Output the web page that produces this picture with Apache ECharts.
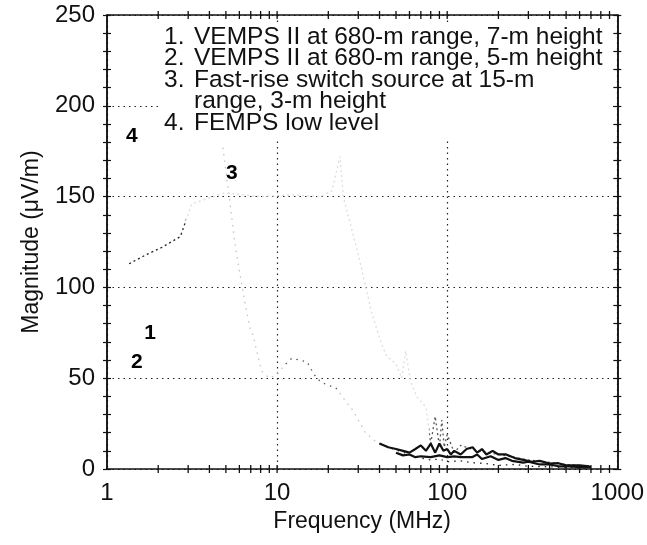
<!DOCTYPE html>
<html>
<head>
<meta charset="utf-8">
<script src="https://cdn.jsdelivr.net/npm/echarts@6/dist/echarts.min.js"></script>
<style>
  html, body { margin: 0; padding: 0; background: #fff; }
  #chart { width: 647px; height: 545px; }
</style>
</head>
<body>
<div id="chart"></div>
<script>
var FONT = 'Liberation Sans';

// axis ticks
var xLabelTicks = [1, 10, 100, 1000];
var xMinorTicks = [2, 3, 4, 5, 6, 7, 8, 9, 10, 20, 30, 40, 50, 60, 70, 80, 90,
                   100, 200, 300, 400, 500, 600, 700, 800, 900];
var yLabelTicks = [0, 50, 100, 150, 200, 250];

// 1. VEMPS II, 680 m, 7 m height
var freq1 = [40, 45, 50, 55, 60, 65, 70, 75, 80, 85, 90, 95, 100, 105, 110, 120, 130, 141, 150, 160, 170, 185, 200, 222, 250, 280, 316, 350, 400, 450, 500, 600, 685];
var mag1  = [14, 12, 11, 10, 9, 11, 13, 10, 14, 9, 14, 10, 11, 8, 10, 8, 11, 12, 9, 11, 8, 10, 8, 8, 6, 5, 4, 4.5, 3, 3.2, 2, 2, 1.5];
// 2. VEMPS II, 680 m, 5 m height
var freq2 = [50, 55, 60, 65, 70, 80, 90, 100, 110, 120, 140, 150, 160, 180, 200, 220, 240, 280, 300, 350, 400, 450, 500, 600, 700];
var mag2  = [9, 7.5, 8, 6.5, 7, 6.5, 7.5, 6.5, 7, 6.5, 6.5, 8, 5.5, 7, 5, 6, 4.5, 3.5, 4, 2.5, 2.5, 1.5, 1.5, 1, 1];
// 3. fast-rise switch source, 15 m
var freq3 = [4.8, 5.2, 5.6, 5.9, 6.4, 6.9, 7.2, 8.1, 9, 10, 11, 12.2, 13.5, 15, 16.5, 18, 20, 22, 25, 28, 33, 37, 40, 45, 52, 60, 70, 80, 90, 100, 120, 140, 170, 200, 250, 300, 400, 500, 700];
var mag3  = [177, 152, 127, 113, 94, 78, 74, 54, 50, 52, 57, 61, 60, 59, 52, 48, 46, 45, 38, 32, 20, 16, 14, 12, 10, 8, 6, 5, 5.5, 4, 4.5, 3.5, 3, 2, 2.5, 1.5, 1.2, 0.8, 0.5];
// 4. FEMPS low level
var freq4 = [1.35, 1.7, 2.1, 2.7, 3.15, 4.9, 8, 12, 18, 21, 23.4, 24.5, 30, 36, 40, 44, 50, 54, 57, 61, 66, 75, 80, 85, 90, 93, 96, 100, 110, 120, 150, 200, 300, 500, 700];
var mag4  = [113, 118, 122, 128, 146, 152, 150, 151, 150, 153, 172, 150, 118, 86, 72, 62, 58, 50, 65, 48, 40, 34, 14, 29, 12, 27, 12, 19, 9, 13, 10, 8, 5, 2.5, 1.5];

// curve numbers written on the plot
var tagFreq = [1.40, 5.42, 1.79, 1.50];
var tagMag  = [183, 163, 75, 59];
var tagText = ['4', '3', '1', '2'];

var legendNums  = ['1.', '2.', '3.', '', '4.'];
var legendLines = ['VEMPS II at 680-m range, 7-m height',
                   'VEMPS II at 680-m range, 5-m height',
                   'Fast-rise switch source at 15-m',
                   'range, 3-m height',
                   'FEMPS low level'];

function pairs(xs, ys) {
  var out = [];
  for (var i = 0; i < xs.length; i++) out.push([xs[i], ys[i]]);
  return out;
}
function onLevel(xs, y) {
  return xs.map(function (x) { return [x, y]; });
}

var black = '#111';
var dotted = [1.5, 4];

function tickAxisY(pos, inside, labels) {
  return {
    type: 'value', min: 0, max: 250, interval: 10, position: pos,
    axisLine: { show: true, onZero: false, lineStyle: { color: black, width: 1.5 } },
    axisTick: { show: true, inside: inside, length: 4, lineStyle: { color: black, width: 1.2 } },
    axisLabel: labels ? { show: true, color: black, fontFamily: FONT, fontSize: 24, margin: 12,
                          formatter: function (v) { return yLabelTicks.indexOf(v) >= 0 ? String(v) : ''; } }
                      : { show: false },
    splitLine: { show: false }
  };
}

var yMain = tickAxisY('left', false, true);
yMain.name = 'Magnitude (μV/m)';
yMain.nameLocation = 'middle';
yMain.nameGap = 64;
yMain.nameTextStyle = { color: black, fontFamily: FONT, fontSize: 23 };

// log ticks along the bottom and top frame, drawn as thin bars centred on the frame
var frameTick = { type: 'scatter', symbol: 'rect', symbolSize: [1.3, 8], z: 7, silent: true,
                  itemStyle: { color: black, opacity: 1 } };

var option = {
  backgroundColor: '#fff',
  animation: false,
  grid: { left: 107, right: 29, top: 15, bottom: 76 },
  xAxis: [
    { type: 'log', logBase: 10, min: 1, max: 1000, position: 'bottom',
      name: 'Frequency (MHz)', nameLocation: 'middle', nameGap: 40,
      nameTextStyle: { color: black, fontFamily: FONT, fontSize: 23 },
      axisLine: { show: true, onZero: false, lineStyle: { color: black, width: 1.6 } },
      axisTick: { show: false },
      axisLabel: { show: true, customValues: xLabelTicks, color: black, fontFamily: FONT,
                   fontSize: 24, margin: 12, formatter: function (v) { return String(v); } },
      splitLine: { show: true, lineStyle: { color: '#222', width: 1.2, type: dotted } } },
    { type: 'log', logBase: 10, min: 1, max: 1000, position: 'top',
      axisLine: { show: true, onZero: false, lineStyle: { color: black, width: 1.5 } },
      axisTick: { show: false }, axisLabel: { show: false }, splitLine: { show: false } }
  ],
  yAxis: [
    yMain,
    tickAxisY('left', true, false),
    tickAxisY('right', true, false),
    tickAxisY('right', false, false),
    { type: 'value', min: 0, max: 250, interval: 50, position: 'left',
      axisLine: { show: false }, axisTick: { show: false }, axisLabel: { show: false },
      splitLine: { show: true, lineStyle: { color: '#222', width: 1.2, type: dotted } } }
  ],
  visualMap: [
    { type: 'piecewise', show: false, seriesIndex: 2, dimension: 0,
      pieces: [{ lt: 11, color: '#c4c4c4' }, { gte: 11, lt: 23, color: '#555' },
               { gte: 23, lt: 38, color: '#c4c4c4' }, { gte: 38, color: '#222' }] },
    { type: 'piecewise', show: false, seriesIndex: 3, dimension: 0,
      pieces: [{ lt: 2.9, color: '#222' }, { gte: 2.9, lt: 78, color: '#dddddd' },
               { gte: 78, color: '#555' }] }
  ],
  series: [
    { name: '1', type: 'line', data: pairs(freq1, mag1), symbol: 'none', z: 5,
      lineStyle: { color: black, width: 2.2 } },
    { name: '2', type: 'line', data: pairs(freq2, mag2), symbol: 'none', z: 5,
      lineStyle: { color: black, width: 2.2 } },
    { name: '3', type: 'line', data: pairs(freq3, mag3), symbol: 'none', z: 4,
      lineStyle: { width: 1.3, type: [1.5, 5] } },
    { name: '4', type: 'line', data: pairs(freq4, mag4), symbol: 'none', z: 4,
      lineStyle: { width: 1.3, type: [2, 3] } },
    { name: 'tags', type: 'scatter', data: pairs(tagFreq, tagMag), symbolSize: 0, z: 6,
      itemStyle: { color: black, opacity: 1 },
      label: { show: true, position: 'inside', color: '#000', opacity: 1, textBorderWidth: 0,
               fontFamily: FONT, fontSize: 21, fontWeight: 'bold',
               formatter: function (p) { return tagText[p.dataIndex]; } } },
    Object.assign({ name: 'ticksBottom', data: onLevel(xMinorTicks, 0) }, frameTick),
    Object.assign({ name: 'ticksTop', data: onLevel(xMinorTicks, 250) }, frameTick)
  ],
  graphic: []
};

// legend block, white behind so grid lines stop at it
option.graphic.push({ type: 'rect', shape: { x: 158, y: 24, width: 454, height: 114 },
                      style: { fill: '#fff' }, z: 10 });
for (var i = 0; i < legendLines.length; i++) {
  var yy = 37 + i * 21.5;
  option.graphic.push({ type: 'text', x: 164, y: yy, z: 11,
    style: { text: legendNums[i], font: '24.5px "' + FONT + '"', fill: black, verticalAlign: 'middle' } });
  option.graphic.push({ type: 'text', x: 194, y: yy, z: 11,
    style: { text: legendLines[i], font: '24.5px "' + FONT + '"', fill: black, verticalAlign: 'middle' } });
}

var chart = echarts.init(document.getElementById('chart'));
chart.setOption(option);
</script>
</body>
</html>
